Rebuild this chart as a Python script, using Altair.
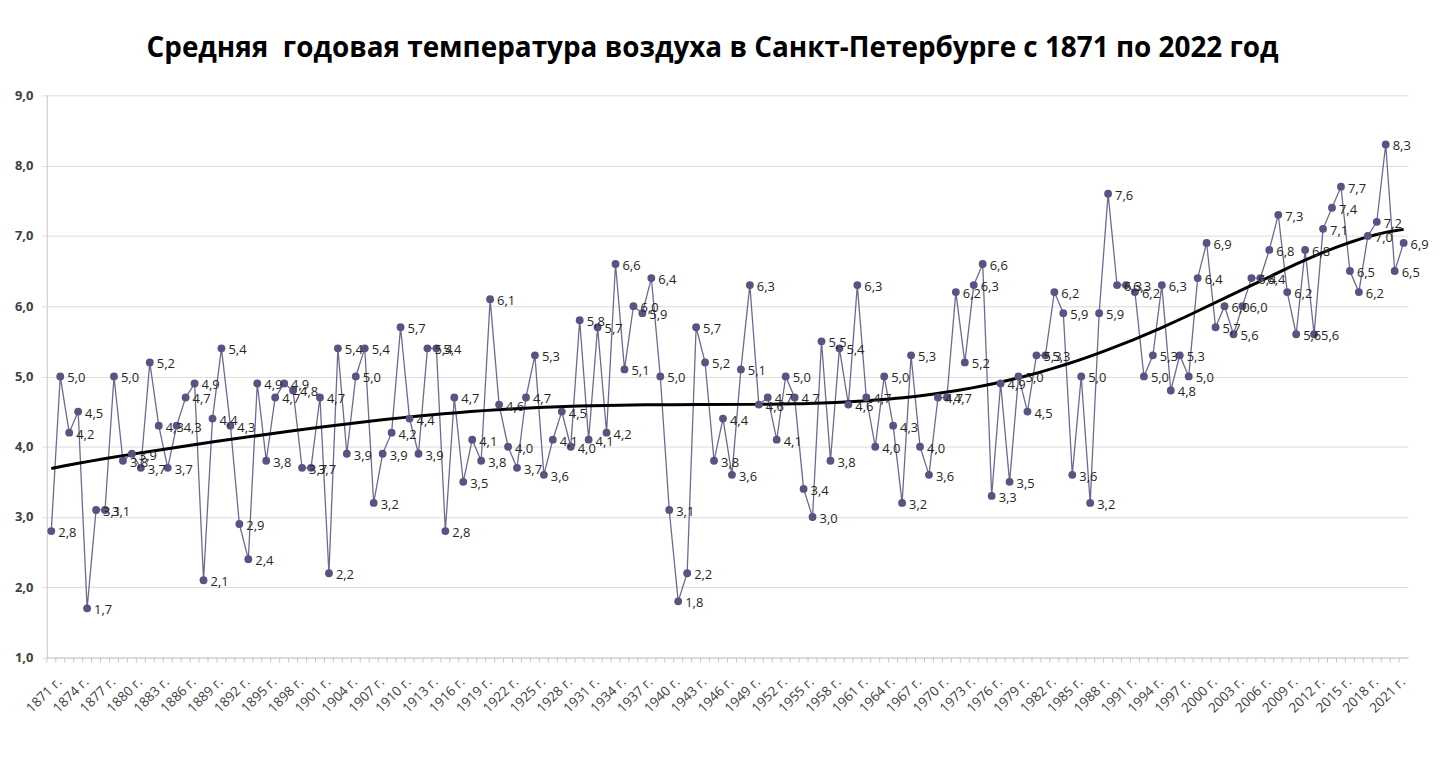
import altair as alt
import pandas as pd

years = list(range(1871, 2023))
temps = [
    2.8, 5.0, 4.2, 4.5, 1.7, 3.1, 3.1, 5.0, 3.8, 3.9,   # 1871-1880
    3.7, 5.2, 4.3, 3.7, 4.3, 4.7, 4.9, 2.1, 4.4, 5.4,   # 1881-1890
    4.3, 2.9, 2.4, 4.9, 3.8, 4.7, 4.9, 4.8, 3.7, 3.7,   # 1891-1900
    4.7, 2.2, 5.4, 3.9, 5.0, 5.4, 3.2, 3.9, 4.2, 5.7,   # 1901-1910
    4.4, 3.9, 5.4, 5.4, 2.8, 4.7, 3.5, 4.1, 3.8, 6.1,   # 1911-1920
    4.6, 4.0, 3.7, 4.7, 5.3, 3.6, 4.1, 4.5, 4.0, 5.8,   # 1921-1930
    4.1, 5.7, 4.2, 6.6, 5.1, 6.0, 5.9, 6.4, 5.0, 3.1,   # 1931-1940
    1.8, 2.2, 5.7, 5.2, 3.8, 4.4, 3.6, 5.1, 6.3, 4.6,   # 1941-1950
    4.7, 4.1, 5.0, 4.7, 3.4, 3.0, 5.5, 3.8, 5.4, 4.6,   # 1951-1960
    6.3, 4.7, 4.0, 5.0, 4.3, 3.2, 5.3, 4.0, 3.6, 4.7,   # 1961-1970
    4.7, 6.2, 5.2, 6.3, 6.6, 3.3, 4.9, 3.5, 5.0, 4.5,   # 1971-1980
    5.3, 5.3, 6.2, 5.9, 3.6, 5.0, 3.2, 5.9, 7.6, 6.3,   # 1981-1990
    6.3, 6.2, 5.0, 5.3, 6.3, 4.8, 5.3, 5.0, 6.4, 6.9,   # 1991-2000
    5.7, 6.0, 5.6, 6.0, 6.4, 6.4, 6.8, 7.3, 6.2, 5.6,   # 2001-2010
    6.8, 5.6, 7.1, 7.4, 7.7, 6.5, 6.2, 7.0, 7.2, 8.3,   # 2011-2020
    6.5, 6.9,                                           # 2021-2022
]
label_years = list(range(1871, 2023, 3))
y_ticks = [1, 2, 3, 4, 5, 6, 7, 8, 9]
title_text = "Средняя \u00a0годовая температура воздуха в Санкт-Петербурге с 1871 по 2022 год"

assert len(temps) == len(years)

df = pd.DataFrame({"year": years, "temp": temps})
df["label"] = [f"{v:.1f}".replace(".", ",") for v in temps]
df["bound"] = [y - 0.5 for y in years]

W, H = 1368, 565
PT = "#585382"
LN = "#6d6992"
AX = "#c8c8c8"

x_enc = alt.X(
    "year:Q",
    scale=alt.Scale(domain=[1870.5, 2022.5], nice=False, zero=False),
    axis=alt.Axis(
        values=label_years,
        tickCount=400,
        labelExpr="datum.value + ' г.'",
        labelAngle=315,
        labelOverlap=False,
        labelBound=False,
        labelFlush=False,
        grid=False,
        ticks=False,
        domainColor=AX,
        labelFontSize=13.5,
        labelColor="#404040",
        labelFont="Open Sans",
        labelPadding=17,
        labelOffset=3,
        title=None,
    ),
)
y_enc = alt.Y(
    "temp:Q",
    scale=alt.Scale(domain=[1, 9], nice=False, zero=False),
    axis=alt.Axis(
        values=y_ticks,
        labelExpr="replace(format(datum.value, '.1f'), '.', ',')",
        labelFontWeight="bold",
        labelFontSize=13,
        labelFont="Open Sans",
        labelColor="#404040",
        gridColor="#dcdcdc",
        domainColor=AX,
        tickColor="#dcdcdc",
        tickSize=5,
        labelPadding=9,
        title=None,
    ),
)

base = alt.Chart(df)
line = base.mark_line(color=LN, strokeWidth=1.3).encode(x=x_enc, y=y_enc)
cat_ticks = base.mark_rule(color=AX, strokeWidth=1).encode(
    x="bound:Q", y=alt.value(H), y2=alt.value(H + 5))
pts = base.mark_circle(color=PT, size=62, opacity=1).encode(x="year:Q", y="temp:Q")
labels = base.mark_text(align="left", baseline="middle", dx=7, dy=2, fontSize=13,
                        font="Open Sans", color="#262626").encode(
    x="year:Q", y="temp:Q", text="label:N")
trend = (
    base.transform_calculate(t="(datum.year - 1946) / 10")
    .transform_regression("t", "temp", method="poly", order=6)
    .transform_calculate(year="datum.t * 10 + 1946")
    .mark_line(color="black", strokeWidth=3)
    .encode(x="year:Q", y="temp:Q")
)

chart = (
    alt.layer(line, cat_ticks, trend, pts, labels)
    .properties(
        width=W,
        height=H,
        title=alt.Title(title_text, fontSize=28, font="Open Sans", fontWeight="bold",
                        color="black", anchor="middle", offset=27, dx=-15),
        padding={"left": 6, "top": 25, "right": 5, "bottom": 5},
        background="#ffffff",
    )
    .configure_view(stroke=None)
)

chart.save("out.html", embed_options={"renderer": "svg", "actions": False})
